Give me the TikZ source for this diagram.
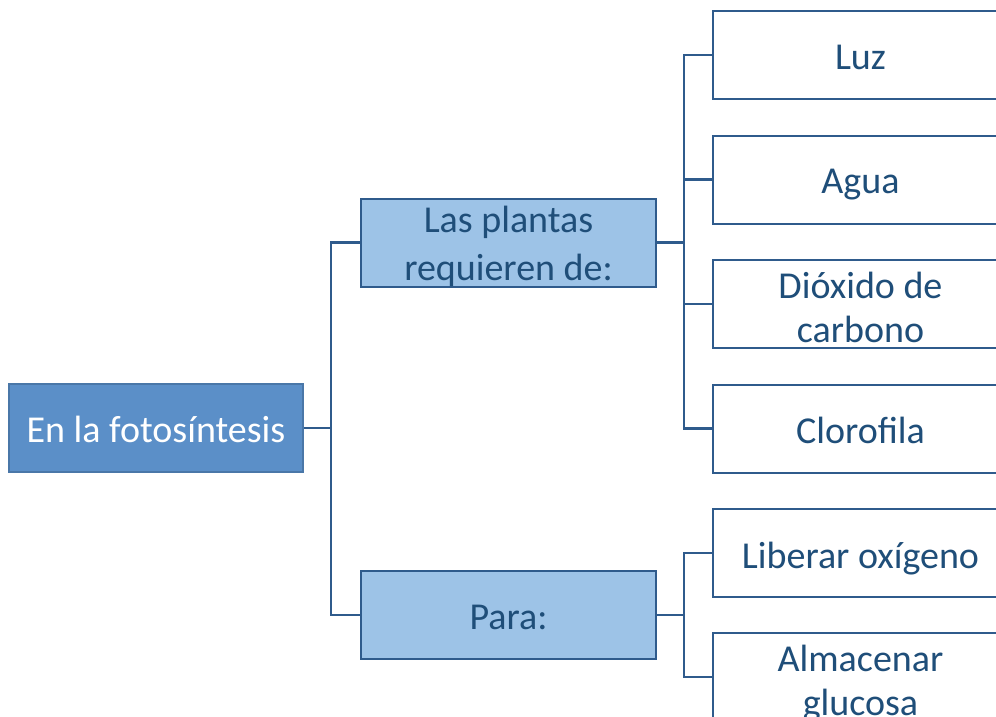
\documentclass[tikz,border=0pt]{standalone}
\usepackage{fontspec}
\setmainfont{Carlito}
\definecolor{rootfill}{HTML}{5B8FC8}
\definecolor{rootdraw}{HTML}{4A77A8}
\definecolor{midfill}{HTML}{9DC3E7}
\definecolor{boxdraw}{HTML}{2F5B8C}
\definecolor{txtblue}{HTML}{1F4E79}
\definecolor{linecol}{HTML}{2F5B8C}
\newcommand\tb[2]{\raisebox{#1}[0pt][0pt]{\begin{tabular}[t]{@{}c@{}}#2\end{tabular}}}
\begin{document}
\begin{tikzpicture}[x=1pt,y=-1pt,
  base/.style={rectangle,inner sep=0pt,line width=2pt,
    font=\fontsize{38}{46}\selectfont},
  rootbox/.style={base,fill=rootfill,draw=rootdraw,text=white,minimum width=294pt,minimum height=88pt},
  midbox/.style={base,fill=midfill,draw=boxdraw,text=txtblue,minimum width=295pt,minimum height=88pt},
  leafbox/.style={base,fill=white,draw=boxdraw,text=txtblue,minimum width=295pt,minimum height=88pt},
  conn/.style={draw=linecol,line width=2.2pt}]
\useasboundingbox (0,0) rectangle (996,717);
\clip (0,0) rectangle (996,717);
\node[rootbox] (root) at (156,428) {\tb{-14.5pt}{En la fotosíntesis}};
\node[midbox] (req) at (508.5,242.5) {\tb{10pt}{Las plantas\\[1.5pt]requieren de:}};
\node[midbox] (para) at (508.5,615) {\tb{-14pt}{Para:}};
\node[leafbox] (luz) at (860.5,55) {\tb{-15pt}{Luz}};
\node[leafbox] (agua) at (860.5,179.5) {\tb{-14pt}{Agua}};
\node[leafbox] (dio) at (860.5,304) {\tb{6pt}{Dióxido de\\[-2pt]carbono}};
\node[leafbox] (clo) at (860.5,428.5) {\tb{-14.5pt}{Clorofila}};
\node[leafbox] (lib) at (860.5,553) {\tb{-15pt}{Liberar oxígeno}};
\node[leafbox] (alm) at (860.5,677) {\tb{5.5pt}{Almacenar\\[-2pt]glucosa}};
\coordinate (j1) at (331,428);
\coordinate (j2) at (684,242.5);
\coordinate (j3) at (684,615);
\draw[conn] (root.east) -- (j1);
\draw[conn] (req.west) -| (j1) |- (para.west);
\draw[conn] (req.east) -- (j2);
\draw[conn] (luz.west) -| (j2) |- (clo.west);
\draw[conn] (j2 |- agua) -- (agua.west);
\draw[conn] (j2 |- dio) -- (dio.west);
\draw[conn] (para.east) -- (j3);
\draw[conn] (lib.west) -| (j3) |- (alm.west);
\end{tikzpicture}
\end{document}
